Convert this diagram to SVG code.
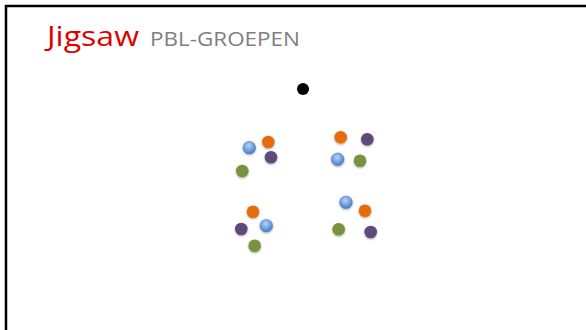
<svg xmlns="http://www.w3.org/2000/svg" width="586" height="330" viewBox="0 0 586 330">
  <defs>
    <radialGradient id="gBlue" cx="0.45" cy="0.35" r="0.65">
      <stop offset="0" stop-color="#b9d3f3"/>
      <stop offset="0.6" stop-color="#6f9fe0"/>
      <stop offset="1" stop-color="#4a7bc4"/>
    </radialGradient>
    <filter id="sh" x="-50%" y="-50%" width="200%" height="200%">
      <feGaussianBlur in="SourceAlpha" stdDeviation="0.8"/>
      <feOffset dx="0" dy="1.2" result="b"/>
      <feComponentTransfer><feFuncA type="linear" slope="0.35"/></feComponentTransfer>
      <feMerge><feMergeNode/><feMergeNode in="SourceGraphic"/></feMerge>
    </filter>
  </defs>
  <style>
    .dot { filter: url(#sh); }
    .o { fill: #e46c0a; }
    .p { fill: #5f497a; }
    .g { fill: #77933c; }
    .b { fill: url(#gBlue); stroke: #4f81bd; stroke-width: 0.6; }
    .title { font-family: "Open Sans", "Liberation Sans", sans-serif; }
  </style>
  <rect width="586" height="330" fill="#ffffff"/>
  <path d="M6 330 V6 H586" fill="none" stroke="#000000" stroke-width="2.5"/>
  <g id="title" class="title">
    <text x="47" y="46" font-size="28" fill="#e00000" textLength="92" lengthAdjust="spacingAndGlyphs">Jigsaw</text>
    <text x="150" y="46" font-size="20.5" fill="#7f7f7f" textLength="150" lengthAdjust="spacingAndGlyphs">PBL-GROEPEN</text>
  </g>
  <g id="teacher">
    <circle cx="303" cy="89" r="6" fill="#000000"/>
  </g>
  <g id="group1" class="dot">
    <circle class="b" cx="249.3" cy="147.7" r="6.3"/>
    <circle class="o" cx="268.3" cy="142" r="6.3"/>
    <circle class="p" cx="271" cy="157.3" r="6.3"/>
    <circle class="g" cx="242.3" cy="171" r="6.3"/>
  </g>
  <g id="group2" class="dot">
    <circle class="o" cx="340.7" cy="137.3" r="6.3"/>
    <circle class="p" cx="367.3" cy="139.3" r="6.3"/>
    <circle class="b" cx="337.7" cy="159.3" r="6.3"/>
    <circle class="g" cx="360" cy="160.7" r="6.3"/>
  </g>
  <g id="group3" class="dot">
    <circle class="o" cx="253" cy="211.7" r="6.3"/>
    <circle class="b" cx="266.3" cy="225.7" r="6.3"/>
    <circle class="p" cx="241.3" cy="229" r="6.3"/>
    <circle class="g" cx="254.7" cy="245.7" r="6.3"/>
  </g>
  <g id="group4" class="dot">
    <circle class="b" cx="346" cy="202.3" r="6.3"/>
    <circle class="o" cx="365" cy="210.7" r="6.3"/>
    <circle class="g" cx="338.7" cy="229.3" r="6.3"/>
    <circle class="p" cx="370.7" cy="232" r="6.3"/>
  </g>
</svg>
